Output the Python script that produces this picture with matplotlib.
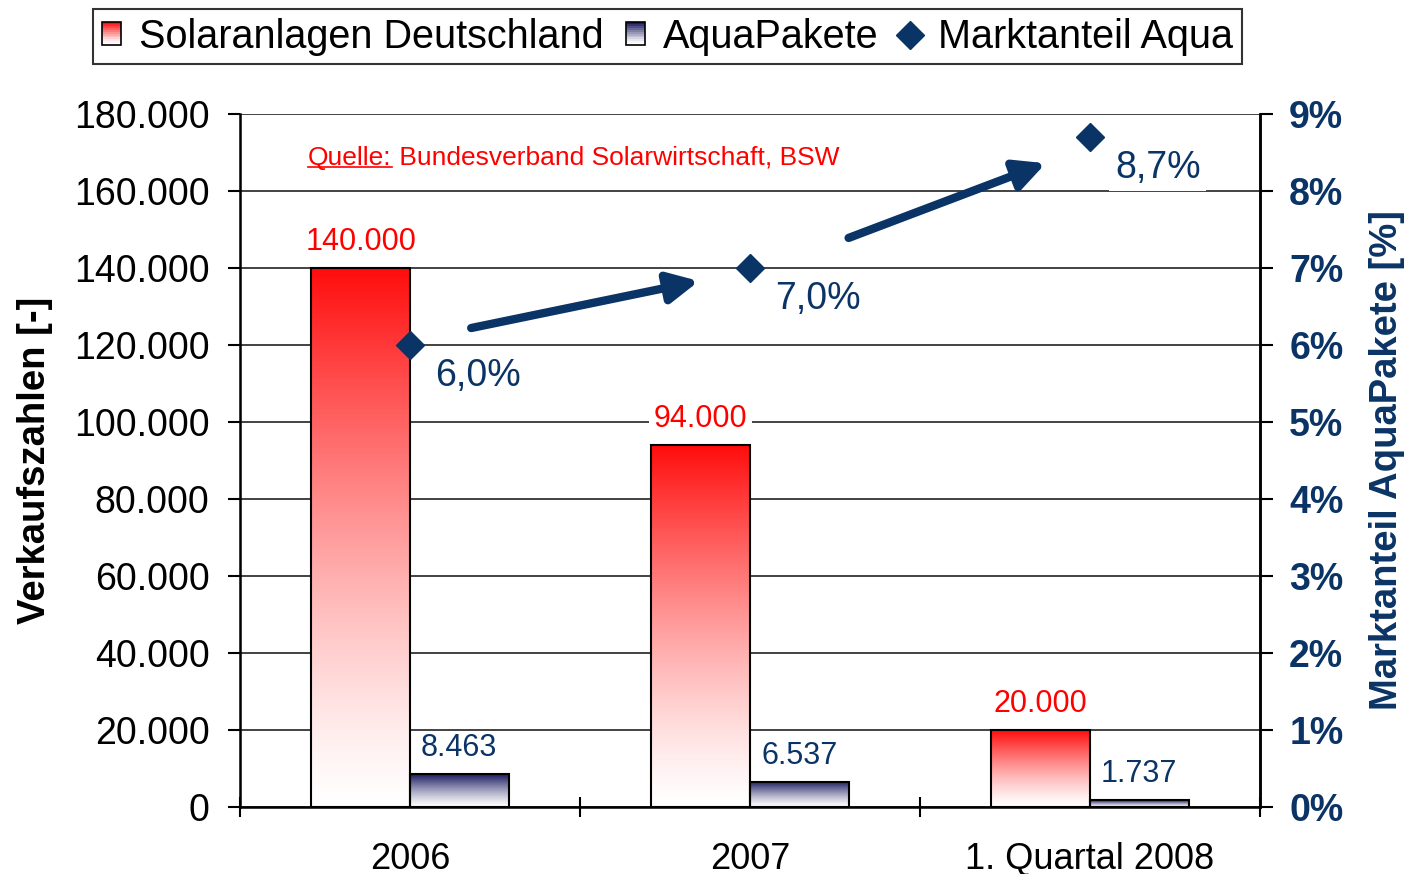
import numpy as np
import matplotlib
matplotlib.use('Agg')
import matplotlib.pyplot as plt
from matplotlib.patches import Rectangle
from matplotlib.lines import Line2D
from matplotlib.legend_handler import HandlerBase
from matplotlib.ticker import FuncFormatter, FixedLocator
from matplotlib.colors import to_rgb

plt.rcParams['font.family'] = ['Liberation Sans', 'DejaVu Sans']

# data
categories = ['2006', '2007', '1. Quartal 2008']
solar = [140000, 94000, 20000]      # Solaranlagen Deutschland
aqua = [8463, 6537, 1737]           # AquaPakete
share = [6.0, 7.0, 8.7]             # Marktanteil Aqua in %

RED = '#ff0d0d'
NAVY_BAR = '#1a1a60'
NAVY = '#0b3466'


def fmt_thousands(v):
    return f'{int(round(v)):,}'.replace(',', '.')


def fmt_pct(v):
    return f'{v:.1f}%'.replace('.', ',')


def gradient(color, n=256, power=1.3):
    top = np.array(to_rgb(color))
    t = np.linspace(0, 1, n) ** power
    rgb = (1 - t)[:, None] + t[:, None] * top[None, :]
    return rgb[:, None, :]


def fill_bars(ax, bars, color):
    img = gradient(color)
    for b in bars:
        x0, y0 = b.get_x(), b.get_y()
        ax.imshow(img, extent=(x0, x0 + b.get_width(), y0, y0 + b.get_height()),
                  origin='lower', aspect='auto', interpolation='bilinear',
                  zorder=1.5)


class GradientHandler(HandlerBase):
    def __init__(self, color):
        super().__init__()
        self.color = color

    def create_artists(self, legend, orig_handle, xdescent, ydescent,
                       width, height, fontsize, trans):
        img = gradient(self.color, n=12)
        arts = []
        n = img.shape[0]
        for i in range(n):
            r = Rectangle((-xdescent, -ydescent + i * height / n), width, height / n,
                          facecolor=img[i, 0], edgecolor='none', transform=trans)
            arts.append(r)
        arts.append(Rectangle((-xdescent, -ydescent), width, height,
                              facecolor='none', edgecolor='black', lw=1.2,
                              transform=trans))
        return arts


fig = plt.figure(figsize=(14.05, 8.74), dpi=100)
ax = fig.add_axes([0.1708, 0.0767, 0.7260, 0.7929])
ax2 = ax.twinx()

x = np.arange(len(categories)) + 0.5
w = 0.29

bars_solar = ax.bar(x - w, solar, width=w, align='edge', facecolor='none',
                    edgecolor='black', lw=1.5, zorder=2)
bars_aqua = ax.bar(x, aqua, width=w, align='edge', facecolor='none',
                   edgecolor='black', lw=1.5, zorder=2)
fill_bars(ax, bars_solar, RED)
fill_bars(ax, bars_aqua, NAVY_BAR)

for b, v in zip(bars_solar, solar):
    ax.text(b.get_x() + b.get_width() / 2, v + 2900, fmt_thousands(v),
            ha='center', va='bottom', color='red', fontsize=22, zorder=4,
            bbox=dict(boxstyle='square,pad=0.15', fc='white', ec='none'))
for b, v in zip(bars_aqua, aqua):
    ax.text(b.get_x() + b.get_width() / 2, v + 2900, fmt_thousands(v),
            ha='center', va='bottom', color=NAVY, fontsize=22, zorder=4)

ax.set_xlim(0, 3)
ax.set_ylim(0, 180000)
ax.set_yticks(np.arange(0, 180001, 20000))
ax.yaxis.set_major_formatter(FuncFormatter(lambda v, p: fmt_thousands(v)))
ax.set_axisbelow(True)
ax.grid(axis='y', color='#222222', lw=1.2)
ax.tick_params(axis='y', direction='out', length=9, width=1.5, pad=13,
               labelsize=27)

# boundary ticks crossing the axis, category labels in between
ax.xaxis.set_major_locator(FixedLocator([0, 1, 2, 3]))
ax.xaxis.set_major_formatter(FuncFormatter(lambda v, p: ''))
ax.xaxis.set_minor_locator(FixedLocator(x))
ax.set_xticklabels(categories, minor=True)
ax.tick_params(axis='x', which='major', direction='inout', length=14, width=1.5)
ax.tick_params(axis='x', which='minor', length=0, pad=25, labelsize=26)

for s in ['left', 'right', 'bottom', 'top']:
    ax.spines[s].set_linewidth(1.8)
ax.spines['top'].set_visible(False)

ax.set_ylabel('Verkaufszahlen [-]', fontsize=27.5, fontweight='bold', labelpad=15)

# market share on the right axis
ax2.set_ylim(0, 9)
ax2.set_yticks(np.arange(0, 10, 1))
ax2.yaxis.set_major_formatter(FuncFormatter(lambda v, p: f'{int(v)}%'))
ax2.tick_params(axis='y', direction='out', length=9, width=1.5, pad=12,
                labelsize=27, labelcolor=NAVY)
for lab in ax2.get_yticklabels():
    lab.set_fontweight('bold')
ax2.spines['top'].set_visible(False)
ax2.spines['right'].set_linewidth(1.8)
ax2.set_ylabel('Marktanteil AquaPakete [%]', fontsize=27.5, fontweight='bold',
               color=NAVY, labelpad=18)

ax2.plot(x, share, linestyle='none', marker='D', markersize=14, color=NAVY,
         zorder=5)
for xi, v in zip(x, share):
    ax2.annotate(fmt_pct(v), (xi, v), xytext=(18, -22), textcoords='offset points',
                 ha='left', va='center', fontsize=27, color=NAVY,
                 bbox=dict(boxstyle='square,pad=0.15', fc='white', ec='none'))

# trend arrows between the points
arrow_gaps = [(0.18, 0.15), (0.29, 0.13)]
arrow_lift = [(0.22, -0.17), (0.39, -0.34)]
for i in range(len(share) - 1):
    x0 = x[i] + arrow_gaps[i][0]
    x1 = x[i + 1] - arrow_gaps[i][1]
    y0 = share[i] + arrow_lift[i][0]
    y1 = share[i + 1] + arrow_lift[i][1]
    ax2.annotate('', xy=(x1, y1), xytext=(x0, y0),
                 arrowprops=dict(arrowstyle='-|>,head_width=0.5,head_length=1.0',
                                 lw=6, color=NAVY, shrinkA=0, shrinkB=0,
                                 mutation_scale=18))

# source note with underlined "Quelle:"
t1 = ax.text(0.0667, 0.9365, 'Quelle:', transform=ax.transAxes, color='red',
             fontsize=19, va='center', ha='left')
fig.canvas.draw()
bb = t1.get_window_extent().transformed(ax.transAxes.inverted())
ax.text(bb.x1, 0.9365, ' Bundesverband Solarwirtschaft, BSW', transform=ax.transAxes,
        color='red', fontsize=19, va='center', ha='left')
ax.add_line(Line2D([bb.x0, bb.x1], [bb.y0 + 0.004, bb.y0 + 0.004],
                   transform=ax.transAxes, color='red', lw=1.2))

# legend
h_solar = Rectangle((0, 0), 1, 1)
h_aqua = Rectangle((0, 0), 1, 1, label='b')
h_share = Line2D([], [], linestyle='none', marker='D', markersize=14, color=NAVY)
leg = fig.legend([h_solar, h_aqua, h_share],
                 ['Solaranlagen Deutschland', 'AquaPakete', 'Marktanteil Aqua'],
                 handler_map={h_solar: GradientHandler(RED),
                              h_aqua: GradientHandler(NAVY_BAR)},
                 loc='center', bbox_to_anchor=(0.475, 0.958), ncol=3,
                 fontsize=28.5, frameon=True, fancybox=False, edgecolor='black',
                 handlelength=0.5, handleheight=0.5, handletextpad=0.45,
                 columnspacing=0.55, borderpad=0.22, borderaxespad=0)
leg.get_frame().set_linewidth(1.5)

fig.savefig('out.png', dpi=100)
